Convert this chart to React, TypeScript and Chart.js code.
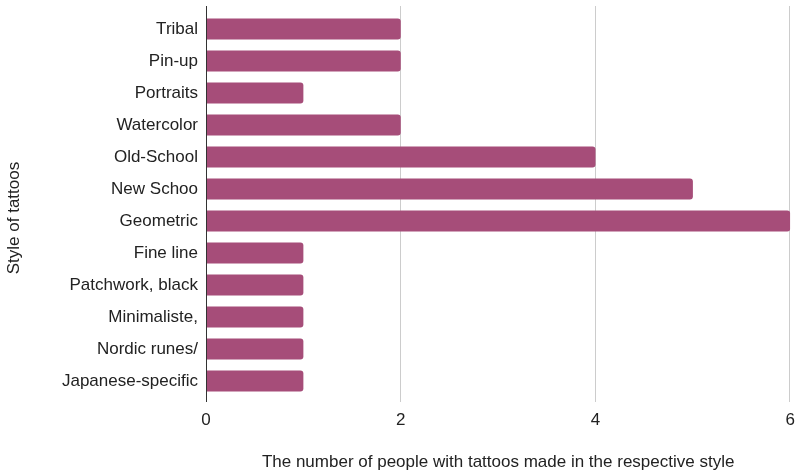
import React, { useEffect, useRef } from "react";
import { Chart, registerables } from "chart.js";

Chart.register(...registerables);

const categories = [
  "Tribal",
  "Pin-up",
  "Portraits",
  "Watercolor",
  "Old-School",
  "New Schoo",
  "Geometric",
  "Fine line",
  "Patchwork, black",
  "Minimaliste,",
  "Nordic runes/",
  "Japanese-specific",
];
const counts = [2, 2, 1, 2, 4, 5, 6, 1, 1, 1, 1, 1];
const xTicks = [0, 2, 4, 6];
const xTitle = "The number of people with tattoos made in the respective style";
const yTitle = "Style of tattoos";

const FONT = "Arial, 'Liberation Sans', sans-serif";
const TEXT = "#222222";
const LINE_TOP = 6;
const LINE_BOTTOM = 402;

const linesPlugin = {
  id: "linesPlugin",
  beforeDatasetsDraw(chart: any) {
    const ctx = chart.ctx;
    const xs = chart.scales.x;
    ctx.save();
    ctx.strokeStyle = "#cccccc";
    ctx.lineWidth = 1;
    for (const t of xTicks) {
      if (t === 0) continue;
      const px = Math.round(xs.getPixelForValue(t)) - 0.5;
      ctx.beginPath();
      ctx.moveTo(px, LINE_TOP);
      ctx.lineTo(px, LINE_BOTTOM);
      ctx.stroke();
    }
    ctx.restore();
  },
  afterDatasetsDraw(chart: any) {
    const ctx = chart.ctx;
    const xs = chart.scales.x;
    ctx.save();
    ctx.strokeStyle = "#333333";
    ctx.lineWidth = 1;
    const px = Math.round(xs.getPixelForValue(0)) + 0.5;
    ctx.beginPath();
    ctx.moveTo(px, LINE_TOP);
    ctx.lineTo(px, LINE_BOTTOM);
    ctx.stroke();
    ctx.restore();
  },
  afterDraw(chart: any) {
    const ctx = chart.ctx;
    ctx.save();
    ctx.translate(14, 218);
    ctx.rotate(-Math.PI / 2);
    ctx.font = `17px ${FONT}`;
    ctx.fillStyle = TEXT;
    ctx.textAlign = "center";
    ctx.textBaseline = "middle";
    ctx.fillText(yTitle, 0, 0);
    ctx.restore();
  },
};

export default function App() {
  const ref = useRef<HTMLCanvasElement>(null);
  useEffect(() => {
    if (!ref.current) return;
    const chart = new Chart(ref.current, {
      type: "bar",
      data: {
        labels: categories,
        datasets: [
          {
            data: counts,
            backgroundColor: "#a64d79",
            borderRadius: 3,
            borderSkipped: "start",
            barPercentage: 0.82,
            categoryPercentage: 0.8,
          },
        ],
      },
      plugins: [linesPlugin],
      options: {
        indexAxis: "y",
        responsive: false,
        animation: false,
        devicePixelRatio: 1,
        layout: { padding: { top: 13, right: 4, bottom: 0, left: 0 } },
        plugins: { legend: { display: false }, tooltip: { enabled: false } },
        scales: {
          x: {
            min: 0,
            max: 6,
            afterBuildTicks: (axis: any) => {
              axis.ticks = xTicks.map((v) => ({ value: v }));
            },
            afterFit: (axis: any) => {
              axis.height = 79;
            },
            grid: {
              display: true,
              color: "rgba(0,0,0,0)",
              drawTicks: true,
              tickLength: 13,
              tickColor: "rgba(0,0,0,0)",
            },
            border: { display: false },
            ticks: {
              padding: 0,
              color: TEXT,
              font: { family: FONT, size: 17 },
            },
            title: {
              display: true,
              text: xTitle,
              color: TEXT,
              font: { family: FONT, size: 17 },
              padding: { top: 0, bottom: 3 },
            },
          },
          y: {
            afterFit: (axis: any) => {
              axis.width = 206;
              axis.paddingTop = 0;
              axis.paddingBottom = 0;
            },
            grid: { display: false, drawTicks: false },
            border: { display: false },
            ticks: {
              padding: 8,
              color: TEXT,
              font: { family: FONT, size: 17 },
              autoSkip: false,
            },
          },
        },
      },
    });
    return () => chart.destroy();
  }, []);
  return (
    <div style={{ position: "absolute", left: 0, top: 0, width: 795, height: 476 }}>
      <canvas ref={ref} width={795} height={476} style={{ width: 795, height: 476 }} />
    </div>
  );
}
